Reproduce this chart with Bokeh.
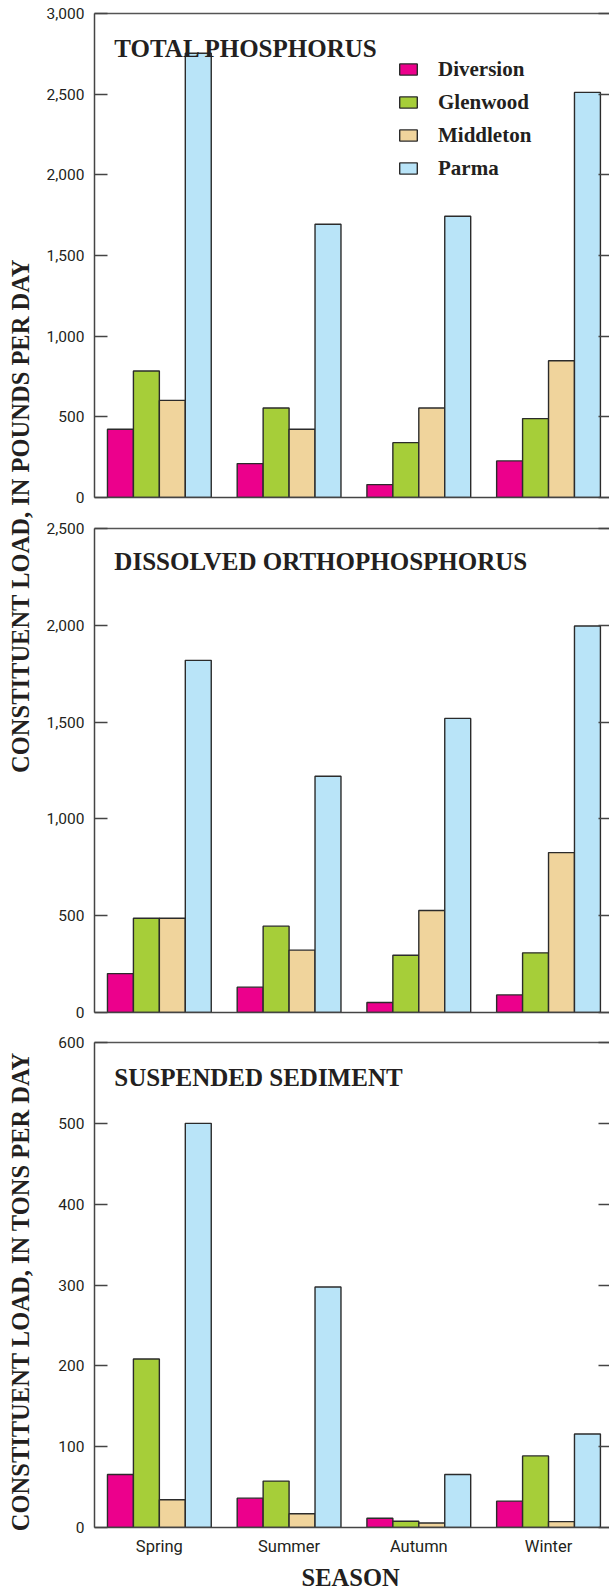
from math import pi
from bokeh.plotting import figure
from bokeh.layouts import row, column
from bokeh.models import (Range1d, LinearAxis, FixedTicker, NumeralTickFormatter, Label,
                          Legend, LegendItem, ColumnDataSource)
from bokeh.transform import dodge
from bokeh.embed import file_html
from bokeh.resources import INLINE

# ---------------- data ----------------
seasons = ["Spring", "Summer", "Autumn", "Winter"]
sites = ["Diversion", "Glenwood", "Middleton", "Parma"]

tp_diversion = [423, 210, 80, 227]
tp_glenwood = [784, 555, 340, 489]
tp_middleton = [602, 423, 555, 848]
tp_parma = [2754, 1694, 1743, 2511]

op_diversion = [201, 131, 52, 91]
op_glenwood = [487, 446, 296, 308]
op_middleton = [487, 322, 527, 826]
op_parma = [1819, 1220, 1519, 1996]

ss_diversion = [65.6, 36.3, 11.5, 32.6]
ss_glenwood = [208.4, 57.4, 7.8, 88.6]
ss_middleton = [34.4, 17.0, 5.5, 7.3]
ss_parma = [500, 297.5, 65.6, 115.7]

tp_ticks = [0, 500, 1000, 1500, 2000, 2500, 3000]
op_ticks = [0, 500, 1000, 1500, 2000, 2500]
ss_ticks = [0, 100, 200, 300, 400, 500, 600]

titles = ["TOTAL PHOSPHORUS", "DISSOLVED ORTHOPHOSPHORUS", "SUSPENDED SEDIMENT"]
ylabel_pounds = "CONSTITUENT  LOAD, IN POUNDS PER DAY"
ylabel_tons = "CONSTITUENT  LOAD, IN TONS PER DAY"
xlabel = "SEASON"

# ---------------- style ----------------
colors = ["#EC008C", "#A6CE39", "#F0D49C", "#B9E4F8"]
offsets = [-0.3, -0.1, 0.1, 0.3]
BAR_W = 0.2
X_START, X_END = -0.5, 3.47
TICK_FONT = "Roboto, Liberation Sans, sans-serif"
SERIF = "Liberation Serif, Times New Roman, serif"
INK = "#231F20"
AXIS = "#444444"

LAB_W = 40
FIG_W = 569
FRAME_LEFT = 94
STEP = 129.3   # px per season group (for placing annotations)


def hidden_labels(ax):
    ax.major_label_text_color = None
    ax.major_label_text_font_size = "1px"
    ax.major_label_standoff = 0


def panel(vals, ticks, ymax, title, height, b_top, b_bottom, frame_bottom_px, frame_h,
          title_base_px, show_x=False, legend=None):
    p = figure(x_range=Range1d(X_START, X_END), y_range=Range1d(0, ymax),
               width=FIG_W, height=height, output_backend="svg", toolbar_location=None,
               min_border_left=FRAME_LEFT - LAB_W, min_border_right=0,
               min_border_top=b_top, min_border_bottom=b_bottom,
               outline_line_color=None)
    p.grid.visible = False
    data = dict(xi=list(range(len(seasons))))
    for s, v in zip(sites, vals):
        data[s] = v
    src = ColumnDataSource(data)
    rends = []
    for s, off, col in zip(sites, offsets, colors):
        r = p.vbar(x=dodge("xi", off), top=s, width=BAR_W, source=src,
                   fill_color=col, line_color="#2b2b2b", line_width=1.4)
        rends.append(r)

    # left axis
    ya = p.yaxis[0]
    ya.ticker = FixedTicker(ticks=ticks)
    ya.formatter = NumeralTickFormatter(format="0,0")
    ya.major_tick_in = 13
    ya.major_tick_out = 0
    ya.minor_tick_line_color = None
    ya.major_label_standoff = 10
    ya.major_label_text_font = TICK_FONT
    ya.major_label_text_font_size = "15.5px"
    ya.major_label_text_color = INK
    ya.axis_line_color = AXIS
    ya.axis_line_width = 1.5
    ya.major_tick_line_color = AXIS
    ya.major_tick_line_width = 1.5

    # bottom axis
    xa = p.xaxis[0]
    xa.ticker = FixedTicker(ticks=list(range(len(seasons))))
    xa.major_label_overrides = {i: s for i, s in enumerate(seasons)}
    xa.major_tick_in = 0
    xa.major_tick_out = 0
    xa.minor_tick_line_color = None
    xa.axis_line_color = AXIS
    xa.axis_line_width = 1.5
    if show_x:
        xa.major_label_standoff = 9
        xa.major_label_text_font = TICK_FONT
        xa.major_label_text_font_size = "16.5px"
        xa.major_label_text_color = INK
    else:
        hidden_labels(xa)

    # right axis: inward ticks only (frame line itself is off the picture)
    ra = LinearAxis(ticker=FixedTicker(ticks=ticks), major_tick_in=11, major_tick_out=0,
                    minor_tick_line_color=None, axis_line_color=None,
                    major_tick_line_color=AXIS, major_tick_line_width=1.5)
    hidden_labels(ra)
    p.add_layout(ra, "right")

    # top frame line
    ta = LinearAxis(ticker=FixedTicker(ticks=[]), major_tick_in=0, major_tick_out=0,
                    minor_tick_line_color=None, axis_line_color="#555555",
                    axis_line_width=1.5)
    hidden_labels(ta)
    p.add_layout(ta, "above")

    # panel title (inside the frame, upper left)
    p.add_layout(Label(x=X_START + 19.8 / STEP,
                       y=ymax * (frame_bottom_px - title_base_px) / frame_h, text=title,
                       text_font=SERIF, text_font_style="bold", text_font_size="25px",
                       text_color=INK, text_baseline="alphabetic", text_align="left"))

    if legend is not None:
        items = [LegendItem(label=s, renderers=[r]) for s, r in zip(sites, rends)]
        lg = Legend(items=items, location=legend, orientation="vertical",
                    padding=0, margin=0, spacing=8, glyph_width=22, glyph_height=14,
                    label_height=14, label_standoff=19, label_text_font=SERIF,
                    label_text_font_style="bold", label_text_font_size="21px",
                    label_text_color=INK, border_line_color=None,
                    background_fill_alpha=0)
        p.add_layout(lg)
    return p


# page geometry (px, page origin at top-left): frames 13-497, 528-1012, 1042-1527
H1, H2, H3, H4 = 512, 515, 533, 31
p1 = panel([tp_diversion, tp_glenwood, tp_middleton, tp_parma], tp_ticks, 3000, titles[0],
           H1, 13, 15, 497, 484, 47.7, legend=(303, 316.5))
p2 = panel([op_diversion, op_glenwood, op_middleton, op_parma], op_ticks, 2500, titles[1],
           H2, 16, 15, 1012, 484, 561)
p3 = panel([ss_diversion, ss_glenwood, ss_middleton, ss_parma], ss_ticks, 600, titles[2],
           H3, 15, 33, 1527, 485, 1076.7, show_x=True)


def text_fig(w, h, text, xc, yc, angle=0.0):
    f = figure(width=w, height=h, x_range=Range1d(0, w), y_range=Range1d(0, h),
               output_backend="svg", toolbar_location=None, x_axis_type=None,
               y_axis_type=None, min_border=0, outline_line_color=None)
    f.grid.visible = False
    f.add_layout(Label(x=xc, y=yc, text=text, angle=angle, text_align="center",
                       text_baseline="middle", text_font=SERIF, text_font_style="bold",
                       text_font_size="24.5px", text_color=INK))
    return f


# axis titles (page px positions converted to each small figure's own pixels)
lab1 = text_fig(LAB_W, H1 + H2, ylabel_pounds, 20, (H1 + H2) - 512.5, pi / 2)
lab2 = text_fig(LAB_W, H3 + H4, ylabel_tons, 20, (H3 + H4) - 261, pi / 2)
season = text_fig(FIG_W, H4, xlabel, 323 - LAB_W, H4 - (1577 - (H1 + H2 + H3)))

layout = row(column(lab1, lab2), column(p1, p2, p3, season))

open("out.html", "w").write(file_html(layout, INLINE))
